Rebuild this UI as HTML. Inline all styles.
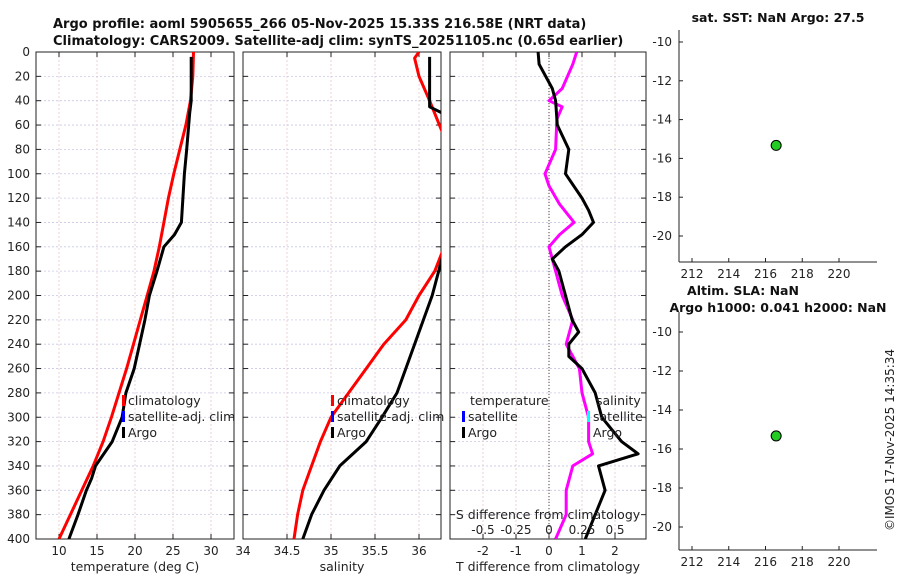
<!DOCTYPE html>
<html><head><meta charset="utf-8"><style>
body{margin:0;background:#fff;width:900px;height:580px;overflow:hidden}
svg{font-family:"DejaVu Sans","Liberation Sans",sans-serif}
</style></head><body>
<svg id="c" width="900" height="580"></svg>
<script>
// ---- data (depth in dbar) ----
const climDepth=[0,20,40,60,80,100,120,140,160,180,200,220,240,260,280,300,320,340,360,380,400];
const climTemp=[27.7,27.6,27.3,26.7,25.9,25.1,24.4,23.8,23.2,22.5,21.6,20.7,19.8,18.9,17.9,16.9,15.8,14.5,13.0,11.5,10.0];
const argoTDepth=[4,40,50,80,100,120,140,150,160,180,200,220,240,260,280,300,320,340,350,360,380,400];
const argoTemp=[27.4,27.4,27.2,26.8,26.5,26.3,26.1,25.2,23.8,22.9,21.9,21.3,20.6,19.9,18.8,18.3,17.0,14.8,14.3,13.6,12.5,11.3];
const climSDepth=[0,5,20,40,65,100,165,180,200,220,240,260,280,300,320,340,360,380,400];
const climSal=[36.0,35.95,36.0,36.12,36.26,36.6,36.26,36.18,36.0,35.85,35.6,35.4,35.2,35.0,34.88,34.78,34.68,34.62,34.58];
const argoSDepth=[4,45,50,100,170,200,220,240,260,280,300,320,340,360,380,400];
const argoSal=[36.12,36.12,36.26,36.6,36.26,36.15,36.05,35.95,35.85,35.75,35.58,35.4,35.1,34.92,34.78,34.68];
const tdDepth=[0,10,30,40,60,80,100,120,130,140,150,160,170,180,200,220,230,240,250,260,280,300,320,330,340,360,380,400];
const tDiff=[-0.33,-0.3,0.1,0.2,0.25,0.6,0.5,1.0,1.2,1.35,1.0,0.5,0.1,0.3,0.5,0.7,0.9,0.6,0.6,1.0,1.4,1.6,2.2,2.7,1.5,1.7,1.4,1.1];
const sdDepth=[0,10,30,40,45,55,80,100,110,125,140,150,160,180,200,220,240,260,280,300,320,330,340,360,380,400];
const sDiff=[0.21,0.18,0.1,0.0,0.1,0.06,0.05,-0.03,0.0,0.08,0.19,0.08,0.0,0.05,0.1,0.18,0.13,0.23,0.25,0.3,0.3,0.33,0.18,0.13,0.13,0.05];
const depthTicks=[0,20,40,60,80,100,120,140,160,180,200,220,240,260,280,300,320,340,360,380,400];
const tempTicks=[10,15,20,25,30];
const salTicks=[34,34.5,35,35.5,36];
const tdTicks=[-2,-1,0,1,2];
const sdTicks=[-0.5,-0.25,0,0.25,0.5];
const lonTicks=[212,214,216,218,220];
const latTicks=[-10,-12,-14,-16,-18,-20];
const floatLon=216.58, floatLat=-15.33;

const svg=document.getElementById('c');const NS='http://www.w3.org/2000/svg';
function E(t,a,p,txt){const e=document.createElementNS(NS,t);for(const k in a)e.setAttribute(k,a[k]);if(txt!==undefined)e.textContent=txt;(p||svg).appendChild(e);return e;}
const Y0=52,Y1=539;const yD=d=>Y0+d/400*(Y1-Y0);
function lin(d0,d1,p0,p1){return v=>p0+(v-d0)/(d1-d0)*(p1-p0);}
const panels=[
 {x0:36,x1:234,sx:lin(10,30,59,211),ticks:tempTicks,label:'temperature (deg C)',name:'temperature-panel'},
 {x0:243,x1:441,sx:lin(34,36,243,419),ticks:salTicks,label:'salinity',name:'salinity-panel'},
 {x0:450,x1:646,sx:lin(0,1,549,582),ticks:tdTicks,label:'T difference from climatology',name:'difference-panel'}];
panels.forEach((p,i)=>{
 const g=E('g',{},svg);
 const cp=E('clipPath',{id:'cp'+i},g);E('rect',{x:p.x0,y:Y0,width:p.x1-p.x0,height:Y1-Y0},cp);p.clip='url(#cp'+i+')';
 depthTicks.forEach(d=>{const y=yD(d);E('line',{x1:p.x0,x2:p.x1,y1:y,y2:y,stroke:'#c8c8e8','stroke-width':0.8,'stroke-dasharray':'2,2'},g);
  E('line',{x1:p.x0,x2:p.x0+5,y1:y,y2:y,stroke:'#222'},g);E('line',{x1:p.x1-5,x2:p.x1,y1:y,y2:y,stroke:'#222'},g);
  if(i==0)E('text',{x:30,y:y+4,'text-anchor':'end','font-size':12,fill:'#222'},g,d);});
 p.ticks.forEach(t=>{const x=p.sx(t);E('line',{x1:x,x2:x,y1:Y0,y2:Y1,stroke:'#e8c8c8','stroke-width':0.8,'stroke-dasharray':'2,2'},g);
  E('line',{x1:x,x2:x,y1:Y1,y2:Y1-5,stroke:'#222'},g);E('line',{x1:x,x2:x,y1:Y0,y2:Y0+5,stroke:'#222'},g);
  E('text',{x:x,y:Y1+16,'text-anchor':'middle','font-size':12,fill:'#222'},g,t);});
 E('rect',{x:p.x0,y:Y0,width:p.x1-p.x0,height:Y1-Y0,fill:'none',stroke:'#222','stroke-width':1},g);
 E('text',{x:(p.x0+p.x1)/2,y:571,'text-anchor':'middle','font-size':12.5,fill:'#222'},g,p.label);
});
function line(p,xs,ds,sx,col,name){const pts=xs.map((v,k)=>sx(v).toFixed(1)+','+yD(ds[k]).toFixed(1)).join(' ');
 const e=E('polyline',{points:pts,fill:'none',stroke:col,'stroke-width':3,'stroke-linejoin':'round','clip-path':p.clip});
 }
line(panels[0],climTemp,climDepth,panels[0].sx,'#f00','temp-climatology-line');
line(panels[0],argoTemp,argoTDepth,panels[0].sx,'#000','temp-argo-line');
line(panels[1],climSal,climSDepth,panels[1].sx,'#f00','sal-climatology-line');
line(panels[1],argoSal,argoSDepth,panels[1].sx,'#000','sal-argo-line');
const p3=panels[2];
E('line',{x1:p3.sx(0),x2:p3.sx(0),y1:Y0,y2:Y1,stroke:'#444','stroke-width':1,'stroke-dasharray':'1,2'});
const ssx=lin(0,0.25,549,582);
line(p3,sDiff,sdDepth,ssx,'#f0f','salinity-diff-line');
line(p3,tDiff,tdDepth,p3.sx,'#000','temp-diff-line');
E('text',{x:548,y:519,'text-anchor':'middle','font-size':12.5,fill:'#222'},svg,'S difference from climatology');
sdTicks.forEach(t=>E('text',{x:lin(0,0.25,549,582)(t),y:534,'text-anchor':'middle','font-size':12,fill:'#222'},svg,t));
function leg(x,y,col,txt){if(col)E('rect',{x:x,y:y-6,width:3,height:11,fill:col});E('text',{x:x+6,y:y+4,'font-size':12.5,fill:'#222'},svg,txt);}
[[122,'#f00','climatology'],[122,'#00f','satellite-adj. clim'],[122,'#000','Argo']].forEach((a,k)=>leg(a[0],401+k*16,a[1],a[2]));
[[331,'#f00','climatology'],[331,'#00f','satellite-adj. clim'],[331,'#000','Argo']].forEach((a,k)=>leg(a[0],401+k*16,a[1],a[2]));
leg(464,401,null,'temperature');leg(462,417,'#00f','satellite');leg(462,433,'#000','Argo');
leg(590,401,null,'salinity');leg(587,417,'#0ff','satellite');leg(587,433,null,'Argo');
E('text',{x:53,y:28,'font-size':13,'font-weight':'bold',fill:'#111'},svg,'Argo profile: aoml 5905655_266 05-Nov-2025 15.33S 216.58E (NRT data)');
E('text',{x:53,y:45,'font-size':13,'font-weight':'bold',fill:'#111'},svg,'Climatology: CARS2009. Satellite-adj clim: synTS_20251105.nc (0.65d earlier)');
const lx=lin(212,220,692,839);
function map(yt,yb,latY,titles,name){const g=E('g',{});
 E('line',{x1:679,x2:679,y1:yt,y2:yb,stroke:'#222'},g);E('line',{x1:679,x2:877,y1:yb,y2:yb,stroke:'#222'},g);
 lonTicks.forEach(t=>{const x=lx(t);E('line',{x1:x,x2:x,y1:yb,y2:yb-4,stroke:'#222'},g);E('text',{x:x,y:yb+16,'text-anchor':'middle','font-size':12,fill:'#222'},g,t);});
 latTicks.forEach(t=>{const y=latY(t);E('line',{x1:679,x2:683,y1:y,y2:y,stroke:'#222'},g);E('text',{x:672,y:y+4,'text-anchor':'end','font-size':12,fill:'#222'},g,t);});
 titles.forEach((s,k)=>E('text',{x:s[1],y:s[2],'text-anchor':'middle','font-size':12.5,'font-weight':'bold',fill:'#111'},g,s[0]));
 const c=E('circle',{cx:lx(floatLon),cy:latY(floatLat),r:5,fill:'#2c2',stroke:'#000','stroke-width':1},g);
 }
map(30,262,lin(-10,-20,42,236),[['sat. SST: NaN Argo: 27.5',778,22]],'sst-map');
map(312,550,lin(-10,-20,332,527),[['Altim. SLA: NaN',743,295],['Argo h1000: 0.041 h2000: NaN',778,312]],'sla-map');
E('text',{x:0,y:0,transform:'translate(894,440) rotate(-90)','text-anchor':'middle','font-size':12,fill:'#222'},svg,'©IMOS 17-Nov-2025 14:35:34');
</script>
</body></html>
